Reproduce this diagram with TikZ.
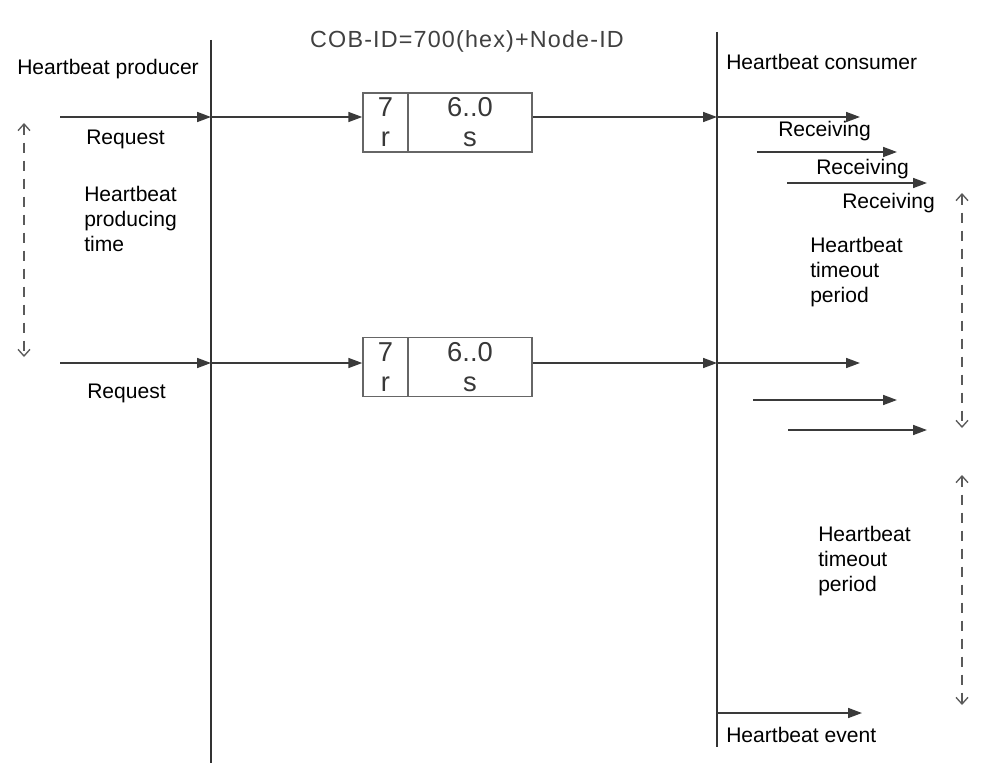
\documentclass[tikz,border=0pt]{standalone}
\usepackage{fontspec}
\setmainfont{Liberation Sans}
\newfontfamily\titlefont[LetterSpace=5]{Liberation Sans}
\usetikzlibrary{arrows.meta}
\definecolor{lifec}{HTML}{333333}
\definecolor{msgc}{HTML}{3A3A3A}
\definecolor{dashc}{HTML}{5A5A5A}
\definecolor{boxc}{HTML}{666666}
\tikzset{
  lbl/.style={anchor=base west, inner sep=0pt, font=\fontsize{15.8pt}{18.5pt}\selectfont, align=left},
  lifeline/.style={draw=lifec, line width=1.7pt},
  msg/.style={draw=msgc, line width=1.2pt, -{Triangle[length=10.5pt,width=7.5pt]}},
  period/.style={draw=dashc, line width=1.7pt, dash pattern=on 8pt off 5.5pt,
    {Straight Barb[length=5pt,width=9pt,line width=1pt]}-{Straight Barb[length=5pt,width=9pt,line width=1pt]}},
  field/.style={draw=boxc, line width=1.1pt, inner sep=0pt, align=center,
    font=\fontsize{20.5pt}{22.5pt}\selectfont, text=black!78},
}
\begin{document}
\begin{tikzpicture}[x=0.75pt, y=-0.75pt]
\useasboundingbox (0,0) rectangle (993,767);
% title and headers
\node[anchor=base, inner sep=0pt, font=\fontsize{17.5pt}{20pt}\selectfont\titlefont, text=black!75] (title) at (467,48) {COB-ID=700(hex)+Node-ID};
\node[lbl] (prod) at (17,75) {Heartbeat producer};
\node[lbl] (cons) at (726,70) {Heartbeat consumer};
% lifelines
\coordinate (lt) at (211,40);
\coordinate (lb) at (211,763);
\coordinate (rt) at (717,32);
\coordinate (rb) at (717,747);
\draw[lifeline] (lt) -- (lb);
\draw[lifeline] (rt) -- (rb);
% message boxes
\node[field, minimum width=33.75pt, minimum height=44.25pt] (b1a) at (385.5,122.5) {7\\r};
\node[field, minimum width=93pt, minimum height=44.25pt] (b1b) at (470,122.5) {6..0\\s};
\node[field, minimum width=33.75pt, minimum height=44.25pt] (b2a) at (385.5,367) {7\\r};
\node[field, minimum width=93pt, minimum height=44.25pt] (b2b) at (470,367) {6..0\\s};
% row 1
\coordinate (s1) at (60,117);
\coordinate (l1) at (211,117);
\coordinate (r1) at (717,117);
\draw[msg] (s1) -- (l1);
\draw[msg] (l1) -- (b1a.west |- l1);
\draw[msg] (b1b.east |- l1) -- (r1);
\node[lbl] (req1) at (86,144) {Request};
% row 2
\coordinate (s2) at (60,363);
\coordinate (l2) at (211,363);
\coordinate (r2) at (717,363);
\draw[msg] (s2) -- (l2);
\draw[msg] (l2) -- (b2a.west |- l2);
\draw[msg] (b2b.east |- l2) -- (r2);
\node[lbl] (req2) at (87,398) {Request};
% producing time
\coordinate (pt1) at (24,123);
\coordinate (pt2) at (24,357);
\draw[period] (pt1) -- (pt2);
\node[lbl] (ptime) at (84,251) {Heartbeat\\producing\\time};
% receiving arrows 1
\coordinate (ra1) at (860,117);
\coordinate (ra2s) at (757,152);
\coordinate (ra2) at (897,152);
\coordinate (ra3s) at (787,183);
\coordinate (ra3) at (927,183);
\draw[msg] (r1) -- (ra1);
\draw[msg] (ra2s) -- (ra2);
\draw[msg] (ra3s) -- (ra3);
\node[lbl] (rec1) at (778,137) {Receiving};
\node[lbl] (rec2) at (816,175) {Receiving};
\node[lbl] (rec3) at (842,208) {Receiving};
% receiving arrows 2
\coordinate (rb1) at (860,363);
\coordinate (rb2s) at (753,400);
\coordinate (rb2) at (897,400);
\coordinate (rb3s) at (788,430);
\coordinate (rb3) at (927,430);
\draw[msg] (r2) -- (rb1);
\draw[msg] (rb2s) -- (rb2);
\draw[msg] (rb3s) -- (rb3);
% timeout periods
\coordinate (to1a) at (962,193);
\coordinate (to1b) at (962,428);
\draw[period] (to1a) -- (to1b);
\node[lbl] (tout1) at (810,302) {Heartbeat\\timeout\\period};
\coordinate (to2a) at (962,475);
\coordinate (to2b) at (962,705);
\draw[period] (to2a) -- (to2b);
\node[lbl] (tout2) at (818,591) {Heartbeat\\timeout\\period};
% heartbeat event
\coordinate (ev1) at (717,713);
\coordinate (ev2) at (862,713);
\draw[msg] (ev1) -- (ev2);
\node[lbl] (event) at (726,742) {Heartbeat event};
\end{tikzpicture}
\end{document}
